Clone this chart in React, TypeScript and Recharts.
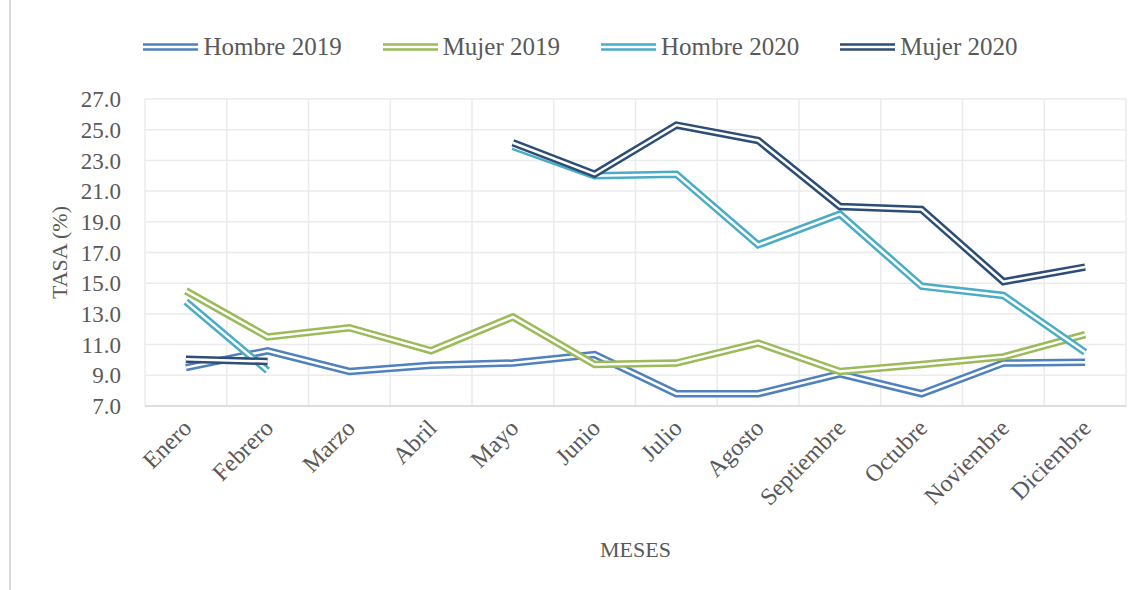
import { LineChart, Line, XAxis, YAxis, CartesianGrid, Legend, Label } from "recharts";

const months = ["Enero", "Febrero", "Marzo", "Abril", "Mayo", "Junio", "Julio", "Agosto", "Septiembre", "Octubre", "Noviembre", "Diciembre"];
const hombre2019 = [9.5, 10.6, 9.25, 9.65, 9.8, 10.35, 7.8, 7.8, 9.1, 7.8, 9.8, 9.85];
const mujer2019 = [14.5, 11.5, 12.1, 10.6, 12.8, 9.7, 9.8, 11.1, 9.25, 9.7, 10.2, 11.65];
const hombre2020 = [13.8, 9.3, null, null, 23.9, 22.0, 22.1, 17.5, 19.5, 14.8, 14.2, 10.5];
const mujer2020 = [10.05, 9.9, null, null, 24.15, 22.1, 25.3, 24.3, 20.0, 19.8, 15.1, 16.05];
const yTicks = [7, 9, 11, 13, 15, 17, 19, 21, 23, 25, 27];

const series = [
  { key: "h2019", name: "Hombre 2019", color: "#4F81BD", values: hombre2019 },
  { key: "m2019", name: "Mujer 2019", color: "#9BBB59", values: mujer2019 },
  { key: "h2020", name: "Hombre 2020", color: "#4BACC6", values: hombre2020 },
  { key: "m2020", name: "Mujer 2020", color: "#2C4D75", values: mujer2020 },
];

const data = months.map((m, i) => {
  const row: Record<string, string | number | null> = { month: m };
  series.forEach((s) => { row[s.key] = s.values[i]; });
  return row;
});

const font = "'Liberation Serif', 'Times New Roman', serif";
const textColor = "#595959";
const halfBand = 981 / 24;

function LegendContent() {
  return (
    <div style={{ display: "flex", justifyContent: "center", gap: 41, height: 36, paddingLeft: 16, alignItems: "center", fontFamily: font, fontSize: 25, color: textColor }}>
      {series.map((s) => (
        <div key={s.key} style={{ display: "flex", alignItems: "center" }}>
          <svg width={55} height={10} style={{ marginRight: 5 }}>
            <line x1={0} y1={5} x2={55} y2={5} stroke={s.color} strokeWidth={7.5} />
            <line x1={0} y1={5} x2={55} y2={5} stroke="#fff" strokeWidth={2.5} />
          </svg>
          <span>{s.name}</span>
        </div>
      ))}
    </div>
  );
}

function MonthTick({ x, y, payload }: any) {
  return (
    <text x={x} y={y} dy={16} dx={-6} textAnchor="end" transform={`rotate(-45, ${x}, ${y})`} fill={textColor} fontFamily={font} fontSize={24}>
      {payload.value}
    </text>
  );
}

export default function App() {
  return (
    <div style={{ position: "absolute", left: 0, top: 0, width: 1145, height: 590, background: "#fff" }}>
      <div style={{ position: "absolute", left: 9, top: 0, width: 2, height: 590, background: "#d9d9d9" }} />
      <LineChart width={1145} height={590} data={data} margin={{ top: 63, right: 19, bottom: 0, left: 0 }}>
        <CartesianGrid
          stroke="#ebebeb"
          strokeWidth={1.5}
          verticalCoordinatesGenerator={({ offset }: any) => months.map((_, i) => offset.left + (i * offset.width) / months.length).concat(offset.left + offset.width)}
        />
        <XAxis dataKey="month" height={184} padding={{ left: halfBand, right: halfBand }} tick={<MonthTick />} tickLine={false} axisLine={{ stroke: "#d9d9d9", strokeWidth: 1.5 }} interval={0}>
          <Label value="MESES" position="insideBottom" offset={33} fill={textColor} fontFamily={font} fontSize={22} />
        </XAxis>
        <YAxis
          width={145}
          domain={[7, 27]}
          ticks={yTicks}
          interval={0}
          tickFormatter={(v: number) => v.toFixed(1)}
          tick={{ fill: textColor, fontFamily: font, fontSize: 23 }}
          tickLine={false}
          axisLine={false}
          tickMargin={18}
        >
          <Label value="TASA (%)" angle={-90} position="insideLeft" offset={59} fill={textColor} fontFamily={font} fontSize={22} style={{ textAnchor: "middle" }} />
        </YAxis>
        <Legend verticalAlign="top" content={<LegendContent />} wrapperStyle={{ top: 29, left: 0, width: 1145 }} />
        {series.flatMap((s) => [
          <Line key={s.key} dataKey={s.key} name={s.name} stroke={s.color} strokeWidth={7.5} dot={false} activeDot={false} isAnimationActive={false} legendType="none" />,
          <Line key={s.key + "-gap"} dataKey={s.key} name={s.name + " "} stroke="#fff" strokeWidth={2.5} dot={false} activeDot={false} isAnimationActive={false} legendType="none" />,
        ])}
      </LineChart>
    </div>
  );
}
